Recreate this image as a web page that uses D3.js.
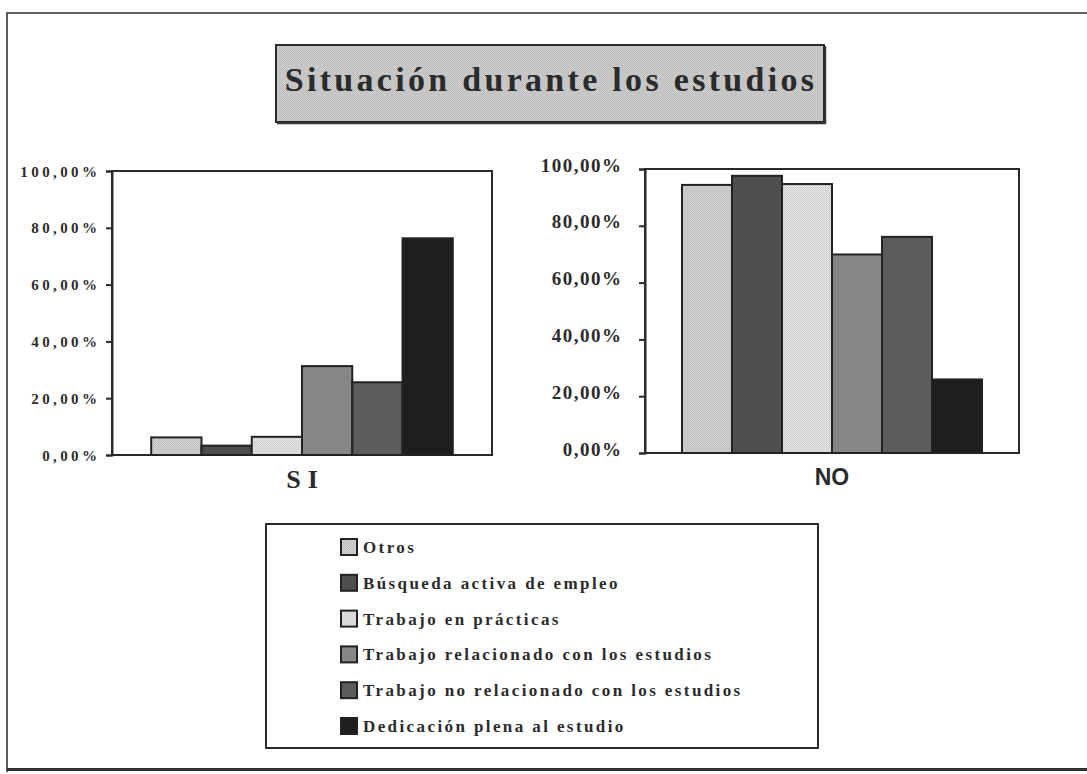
<!DOCTYPE html>
<html>
<head>
<meta charset="utf-8">
<script src="https://cdn.jsdelivr.net/npm/d3@7/dist/d3.min.js"></script>
<style>
  html, body { margin: 0; padding: 0; background: #fff; }
  svg { display: block; }
</style>
</head>
<body>
<svg id="chart" width="1087" height="774"></svg>
<script>
// Series (one bar per series inside each panel)
const series = [
  "Otros",
  "Búsqueda activa de empleo",
  "Trabajo en prácticas",
  "Trabajo relacionado con los estudios",
  "Trabajo no relacionado con los estudios",
  "Dedicación plena al estudio"
];
// Panel categories
const categories = ["SI", "NO"];
// Percent values per series, one array per panel
const valuesSI = [6.2, 3.3, 6.4, 31.3, 25.6, 76.3];
const valuesNO = [94.4, 97.6, 94.7, 69.9, 76.1, 25.9];
// Axis ticks
const tickValues = [0, 20, 40, 60, 80, 100];
const tickLabels = ["0,00%", "20,00%", "40,00%", "60,00%", "80,00%", "100,00%"];
const titleText = "Situación durante los estudios";

const fills = ["#c9c9c9", "#4f4f4f", "#dadada", "#878787", "#5d5d5d", "#1f1f1f"];

const svg = d3.select("#chart");
const defs = svg.append("defs");

// Fine dither texture for each fill
function ditherPattern(id, base) {
  const c = d3.color(base);
  const p = defs.append("pattern").attr("id", id)
    .attr("width", 2).attr("height", 2).attr("patternUnits", "userSpaceOnUse");
  p.append("rect").attr("width", 2).attr("height", 2).attr("fill", c.brighter(0.12));
  p.append("rect").attr("width", 1).attr("height", 1).attr("fill", c.darker(0.15));
  p.append("rect").attr("x", 1).attr("y", 1).attr("width", 1).attr("height", 1).attr("fill", c.darker(0.15));
  return `url(#${id})`;
}
const patternFills = fills.map((f, i) => ditherPattern("pat" + i, f));
const titleFill = ditherPattern("patTitle", "#c6c6c6");

const color = d3.scaleOrdinal().domain(series).range(patternFills);

// Outer frame
svg.append("path")
  .attr("d", "M7,772 L7,13 L1087,13")
  .attr("fill", "none").attr("stroke", "#333").attr("stroke-width", 1.6);
svg.append("line")
  .attr("x1", 7).attr("x2", 1087).attr("y1", 769.5).attr("y2", 769.5)
  .attr("stroke", "#333").attr("stroke-width", 3);

// Title box
svg.append("rect")
  .attr("x", 276).attr("y", 45).attr("width", 548).attr("height", 77)
  .attr("fill", titleFill).attr("stroke", "#2a2a2a").attr("stroke-width", 2);
svg.append("path")
  .attr("d", "M277,123.5 L825.5,123.5 L825.5,46")
  .attr("fill", "none").attr("stroke", "#3a3a3a").attr("stroke-width", 1.5);
svg.append("text")
  .attr("x", 551).attr("y", 91)
  .attr("text-anchor", "middle")
  .attr("font-family", "'Liberation Serif', 'Times New Roman', serif")
  .attr("font-weight", "bold").attr("font-size", 34)
  .attr("letter-spacing", "3.3px")
  .attr("fill", "#2b2b2b")
  .text(titleText);

// Panel layout
const panels = [
  { cat: categories[0], values: valuesSI, x0: 112, x1: 492, yTop: 171, yBot: 455, outer: 0.78,
    tickFont: "'Liberation Serif', serif", tickSize: 15, tickSpacing: 3.4, tickDy: 5, labelRight: 97,
    catFont: "'Liberation Serif', serif", catSize: 26, catSpacing: 7, catY: 488 },
  { cat: categories[1], values: valuesNO, x0: 645, x1: 1019, yTop: 169, yBot: 453, outer: 0.74,
    tickFont: "'Liberation Serif', serif", tickSize: 19, tickSpacing: 1.5, tickDy: 2, labelRight: 621,
    catFont: "'Liberation Sans', Arial, sans-serif", catSize: 23, catSpacing: 0, catY: 485 }
];

panels.forEach(p => {
  const x = d3.scaleBand().domain(series).range([p.x0, p.x1])
    .paddingInner(0).paddingOuter(p.outer);
  const y = d3.scaleLinear().domain([0, 100]).range([p.yBot, p.yTop]);
  const g = svg.append("g");

  // Plot frame
  g.append("rect")
    .attr("x", p.x0).attr("y", y(100))
    .attr("width", p.x1 - p.x0).attr("height", y(0) - y(100))
    .attr("fill", "#fff").attr("stroke", "#2a2a2a").attr("stroke-width", 2);

  // Bars
  g.selectAll("rect.bar").data(p.values).join("rect")
    .attr("class", "bar")
    .attr("x", (d, i) => x(series[i]))
    .attr("y", d => y(d))
    .attr("width", x.bandwidth())
    .attr("height", d => y(0) - y(d))
    .attr("fill", (d, i) => color(series[i]))
    .attr("stroke", "#222").attr("stroke-width", 2);

  // Y axis with outside ticks
  const axis = d3.axisLeft(y).tickValues(tickValues)
    .tickFormat((d, i) => tickLabels[i]).tickSize(6).tickPadding(0);
  const ax = g.append("g").attr("transform", `translate(${p.x0},0)`).call(axis);
  ax.select(".domain").attr("stroke", "#2a2a2a").attr("stroke-width", 2);
  ax.selectAll(".tick line").attr("stroke", "#2a2a2a").attr("stroke-width", 2);
  ax.selectAll(".tick text")
    .attr("x", p.labelRight - p.x0 + p.tickSpacing)
    .attr("dy", null).attr("y", p.tickDy)
    .attr("font-family", p.tickFont).attr("font-weight", "bold")
    .attr("font-size", p.tickSize).attr("letter-spacing", p.tickSpacing + "px")
    .attr("fill", "#2b2b2b");
  ax.attr("font-size", null).attr("font-family", null);

  // Category label under the panel
  g.append("text")
    .attr("x", (p.x0 + p.x1) / 2 + p.catSpacing / 2).attr("y", p.catY)
    .attr("text-anchor", "middle")
    .attr("font-family", p.catFont).attr("font-weight", "bold")
    .attr("font-size", p.catSize).attr("letter-spacing", p.catSpacing + "px")
    .attr("fill", "#2b2b2b")
    .text(p.cat);
});

// Legend
const legend = svg.append("g");
legend.append("rect")
  .attr("x", 266).attr("y", 524).attr("width", 552).attr("height", 224)
  .attr("fill", "#fff").attr("stroke", "#2a2a2a").attr("stroke-width", 2);
const rowY = d3.scalePoint().domain(series).range([547, 726]);
const items = legend.selectAll("g.item").data(series).join("g")
  .attr("class", "item")
  .attr("transform", d => `translate(341,${rowY(d)})`);
items.append("rect")
  .attr("x", 0).attr("y", -8).attr("width", 16).attr("height", 16)
  .attr("fill", d => color(d)).attr("stroke", "#222").attr("stroke-width", 2);
items.append("text")
  .attr("x", 22).attr("y", 6)
  .attr("font-family", "'Liberation Serif', 'Times New Roman', serif")
  .attr("font-weight", "bold").attr("font-size", 17)
  .attr("letter-spacing", "2.4px")
  .attr("fill", "#2b2b2b")
  .text(d => d);
</script>
</body>
</html>
